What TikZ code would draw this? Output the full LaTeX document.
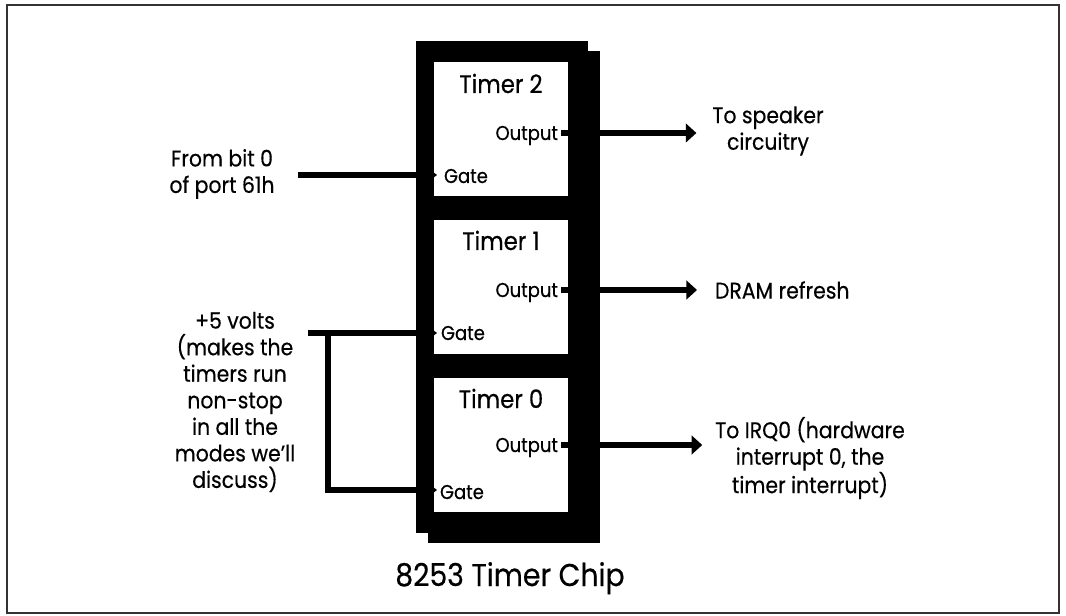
\documentclass[tikz,border=0pt]{standalone}
\usepackage{fontspec}
\setmainfont{Poppins}[FakeStretch=0.9, FakeBold=0.4]
\usetikzlibrary{positioning, arrows.meta, calc}

\begin{document}
\begin{tikzpicture}[
  x=0.75pt, y=-0.75pt,
  every node/.style={inner sep=0pt, outer sep=0pt},
  txt/.style={font=\fontsize{17}{19.9}\selectfont, align=center},
  tlabel/.style={font=\fontsize{19}{22}\selectfont, anchor=base},
  pin/.style={font=\fontsize{15}{17}\selectfont},
  chip/.style={fill=black, minimum width=129pt, minimum height=369pt},
  timer/.style={fill=white, minimum width=100.5pt, minimum height=101pt},
  frame/.style={draw=black!80, line width=0.9pt},
  arr/.style={-{Triangle[length=8pt, width=14pt]}, line width=3.8pt},
  gate/.style={-{Triangle[length=5pt, width=7.5pt]}, line width=3.8pt}
]
  \useasboundingbox (0,0) rectangle (1066,616);
  \draw[frame] (7,5) rectangle (1059,613);

  % Chip body with drop shadow
  \node[chip] (shadow) at (514,297) {};
  \node[chip] (chip) at (502,287) {};

  % The three counters
  \node[timer] (t2) at (501,129) {};
  \node[timer] (t1) at (501,287) {};
  \node[timer] (t0) at (501,445) {};

  \node[tlabel] (n2) at (501,93) {Timer 2};
  \node[tlabel] (n1) at (501,250) {Timer 1};
  \node[tlabel] (n0) at (501,408) {Timer 0};

  \node[pin, anchor=base east] (out2) at (558,140) {Output};
  \node[pin, anchor=base east] (out1) at (558,297) {Output};
  \node[pin, anchor=base east] (out0) at (558,452) {Output};
  \node[pin, anchor=base west] (g2) at (444,183) {Gate};
  \node[pin, anchor=base west] (g1) at (441,340) {Gate};
  \node[pin, anchor=base west] (g0) at (440,499) {Gate};

  \coordinate (o2) at (561,133);
  \coordinate (o1) at (561,290);
  \coordinate (o0) at (561,445);

  % Destinations
  \node[txt] (spk) at (768,131) {To speaker\\circuitry};
  \node[txt, anchor=west] (dram) at (715,290) {DRAM refresh};
  \node[txt] (irq) at (810,458) {To IRQ0 (hardware\\interrupt 0, the\\timer interrupt)};

  \draw[arr] (o2) -- ($(o2 -| spk.west)+(-16,0)$);
  \draw[arr] (o1) -- ($(o1 -| dram.west)+(-18,0)$);
  \draw[arr] (o0) -- ($(o0 -| irq.west)+(-13,0)$);

  % Gate inputs
  \node[txt] (bit0) at (222,174) {From bit 0\\of port 61h};
  \node[txt] (volts) at (235,402) {+5 volts\\(makes the\\timers run\\non-stop\\in all the\\modes we’ll\\discuss)};

  \coordinate (src2) at (298,175);
  \coordinate (v5) at (308,333);
  \coordinate (vbus) at (328,333);

  \draw[gate] (src2) -- ($(src2 -| t2.west)+(3,0)$);
  \draw[gate] (v5) -- ($(v5 -| t1.west)+(3,0)$);
  \draw[gate] (vbus) |- ($(t0.west)+(3,45)$);

  \node[font=\fontsize{23.6}{28}\selectfont, anchor=base] (title) at (510,586) {8253 Timer Chip};
\end{tikzpicture}
\end{document}
